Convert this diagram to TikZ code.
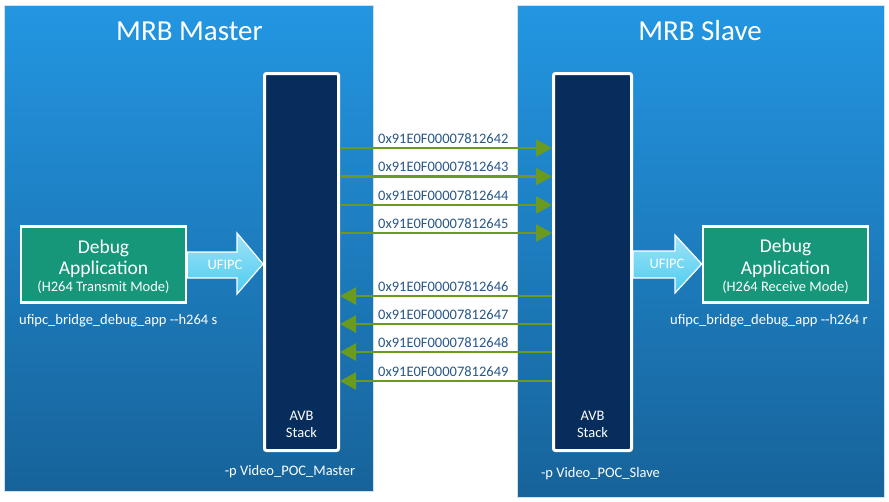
\documentclass[tikz,border=0pt]{standalone}
\usepackage{fontspec}
\setmainfont{Carlito}
\usetikzlibrary{arrows.meta,calc}
\definecolor{paneltop}{RGB}{35,150,226}
\definecolor{panelbot}{RGB}{23,99,154}
\definecolor{panelline}{RGB}{205,225,240}
\definecolor{stackfill}{RGB}{7,45,92}
\definecolor{appfill}{RGB}{22,151,122}
\definecolor{flowgreen}{RGB}{107,155,30}
\definecolor{hexblue}{RGB}{40,88,136}
\definecolor{ufitop}{RGB}{160,226,246}
\definecolor{ufibot}{RGB}{75,204,240}
\begin{document}
\begin{tikzpicture}[x=1pt,y=-1pt,
  panel/.style={draw=panelline, line width=1pt, top color=paneltop, bottom color=panelbot},
  stackbox/.style={draw=white, line width=3pt, fill=stackfill, rounded corners=2pt, inner sep=0pt},
  appbox/.style={draw=white, line width=2.5pt, fill=appfill, inner sep=0pt},
  ufiarrow/.style={draw=white, line width=1.2pt, top color=ufitop, bottom color=ufibot},
  flow/.style={draw=flowgreen, line width=2.4pt, -{Triangle[length=16pt,width=17pt]}},
  txt/.style={inner sep=0pt, anchor=base, text=white, font=\fontsize{14.5}{17}\selectfont},
  title/.style={inner sep=0pt, anchor=base, text=white, font=\fontsize{29}{34}\selectfont},
  apptxt/.style={inner sep=0pt, anchor=base, text=white, font=\fontsize{19.5}{23}\selectfont},
  hex/.style={inner sep=0pt, anchor=base west, text=hexblue, font=\fontsize{14.5}{17}\selectfont}]
\useasboundingbox (0,0) rectangle (889,501);
\fill[white] (0,0) rectangle (889,501);
% panels
\path[panel] (4,5) rectangle (373,491);
\path[panel] (517,5) rectangle (884,497);
\node[title] (tmaster) at (189.5,40) {MRB Master};
\node[title] (tslave) at (700,40) {MRB Slave};
% stacks
\node[stackbox, minimum width=74pt, minimum height=377pt] (lstack) at (301.5,262) {};
\node[stackbox, minimum width=78pt, minimum height=377pt] (rstack) at (592.5,262) {};
\node[txt] (lavb) at (301.5,420) {AVB};
\node[txt] (lstk) at (301.5,437) {Stack};
\node[txt] (ravb) at (592.5,420) {AVB};
\node[txt] (rstk) at (592.5,437) {Stack};
\node[txt] (lpoc) at (290,475) {-p Video\_POC\_Master};
\node[txt] (rpoc) at (600.5,477) {-p Video\_POC\_Slave};
% debug apps
\node[appbox, minimum width=165pt, minimum height=76pt] (lapp) at (103.5,264.5) {};
\node[appbox, minimum width=165pt, minimum height=76pt] (rapp) at (785.5,264.5) {};
\node[apptxt] (ld1) at (103.5,253) {Debug};
\node[apptxt] (ld2) at (103.5,274) {Application};
\node[txt] (ld3) at (103.5,291) {(H264 Transmit Mode)};
\node[apptxt] (rd1) at (785.5,252) {Debug};
\node[apptxt] (rd2) at (785.5,274) {Application};
\node[txt] (rd3) at (785.5,291) {(H264 Receive Mode)};
\node[txt, anchor=base west] (lcmd) at (19,324) {ufipc\_bridge\_debug\_app -{}-h264 s};
\node[txt, anchor=base west] (rcmd) at (670,324) {ufipc\_bridge\_debug\_app -{}-h264 r};
% UFIPC arrows
\path[ufiarrow] (lapp.east |- 0,252) -- (237,252) -- (237,233) -- (lstack.west |- 0,264) -- (237,294) -- (237,278) -- (lapp.east |- 0,278) -- cycle;
\node[txt] (lufi) at (225,269) {UFIPC};
\path[ufiarrow] (rstack.east |- 0,251) -- (675,251) -- (675,235) -- (rapp.west |- 0,264) -- (675,293) -- (675,278) -- (rstack.east |- 0,278) -- cycle;
\node[txt] (rufi) at (667,268) {UFIPC};
% flows master -> slave
\foreach \y/\n in {148/42,176.5/43,205/44,233/45}{
  \draw[flow] (lstack.east |- 0,\y) -- (rstack.west |- 0,\y);
  \node[hex] (h\n) at (378,\y-5) {0x91E0F000078126\n};
}
% flows slave -> master
\foreach \y/\n in {296/46,324/47,352/48,381/49}{
  \draw[flow] (rstack.west |- 0,\y) -- (lstack.east |- 0,\y);
  \node[hex] (h\n) at (378,\y-4.5) {0x91E0F000078126\n};
}
\end{tikzpicture}
\end{document}
